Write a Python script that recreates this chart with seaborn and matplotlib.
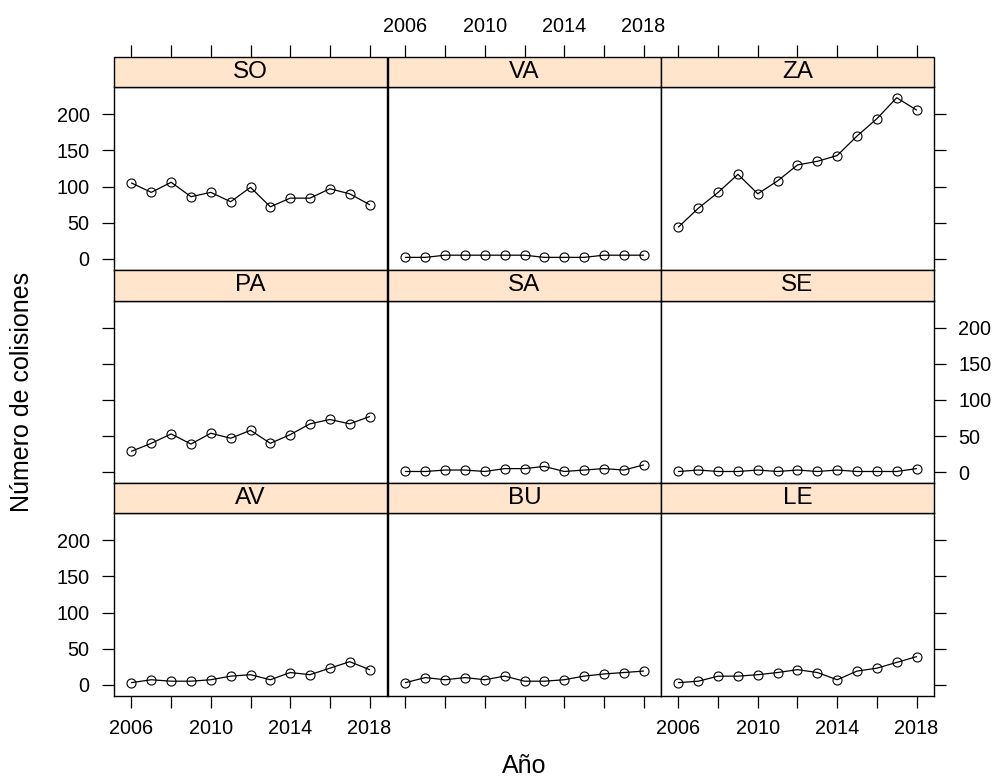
import matplotlib
matplotlib.use("Agg")
import matplotlib.pyplot as plt
from matplotlib.patches import Rectangle
import pandas as pd
import seaborn as sns

# Collisions per year and province
years = list(range(2006, 2019))
so = [105, 92, 106, 86, 92, 79, 99, 72, 84, 84, 97, 90, 75]
va = [2, 2, 5, 5, 5, 5, 5, 2, 2, 2, 5, 5, 5]
za = [44, 70, 92, 117, 90, 108, 130, 135, 143, 170, 194, 223, 206]
pa = [29, 40, 53, 39, 54, 47, 58, 40, 52, 67, 73, 67, 77]
sa = [1, 1, 3, 3, 1, 5, 5, 8, 1, 3, 5, 3, 10]
se = [1, 3, 1, 1, 3, 1, 3, 1, 3, 1, 1, 1, 5]
av = [3, 7, 5, 5, 7, 12, 14, 7, 17, 14, 23, 32, 21]
bu = [3, 10, 7, 10, 7, 12, 5, 5, 7, 12, 15, 17, 19]
le = [3, 5, 12, 12, 14, 17, 21, 17, 7, 19, 23, 31, 39]

series = {"SO": so, "VA": va, "ZA": za,
          "PA": pa, "SA": sa, "SE": se,
          "AV": av, "BU": bu, "LE": le}
layout = [["SO", "VA", "ZA"],
          ["PA", "SA", "SE"],
          ["AV", "BU", "LE"]]

x_ticks = list(range(2006, 2019, 2))
x_labels = ["2006", "", "2010", "", "2014", "", "2018"]
y_ticks = [0, 50, 100, 150, 200]
y_labels = ["0", "50", "100", "150", "200"]

df = pd.DataFrame([(p, y, v) for p, vals in series.items()
                   for y, v in zip(years, vals)],
                  columns=["prov", "year", "n"])

sns.set_theme(style="white")
plt.rcParams["font.family"] = ["Liberation Sans", "DejaVu Sans"]

W, H = 993, 782
fig = plt.figure(figsize=(W / 100, H / 100), dpi=100)

col_left = [114, 388, 661]
panel_w = 273
row_top = [87.3, 300.7, 513.3]
panel_h = 182.7
strip_h = 30.7
sf = strip_h / panel_h

tick_kw = dict(direction="out", length=8.5, width=0.9, labelsize=14.3,
               color="black", labelcolor="black")

for r, row in enumerate(layout):
    for c, prov in enumerate(row):
        x0 = col_left[c]
        top = row_top[r]
        ax = fig.add_axes([x0 / W, 1 - (top + panel_h) / H,
                           panel_w / W, panel_h / H])
        sns.lineplot(data=df[df.prov == prov], x="year", y="n", ax=ax,
                     color="black", lw=0.9, errorbar=None,
                     marker="o", markersize=6.5, markerfacecolor="none",
                     markeredgecolor="black", markeredgewidth=0.8)
        ax.set_xlim(2005.12, 2018.88)
        ax.set_ylim(-15.5, 237.5)
        ax.set_xlabel("")
        ax.set_ylabel("")
        for s in ax.spines.values():
            s.set_visible(True)
            s.set_color("black")
            s.set_linewidth(1.0)

        ax.set_xticks(x_ticks, x_labels)
        ax.set_yticks(y_ticks, y_labels)
        ax.tick_params(axis="both", **tick_kw)
        ax.tick_params(axis="x", pad=8,
                       bottom=(r == 2), top=False,
                       labelbottom=(r == 2 and c != 1), labeltop=False)
        ax.tick_params(axis="y", pad=9,
                       left=(c == 0), right=(c == 2),
                       labelleft=(c == 0 and r != 1),
                       labelright=(c == 2 and r == 1))

        # strip with the province name
        ax.add_patch(Rectangle((0, 1), 1, sf, transform=ax.transAxes,
                               clip_on=False, facecolor="#ffe5cc",
                               edgecolor="black", lw=1.0, zorder=3))
        ax.text(0.5, 1 + sf / 2, prov, transform=ax.transAxes,
                ha="center", va="center", fontsize=17.5, color="black",
                zorder=4)

        # top axis above the strips of the first row
        if r == 0:
            sec = ax.secondary_xaxis(1 + sf)
            sec.set_xticks(x_ticks, x_labels if c == 1 else [""] * len(x_ticks))
            for s in sec.spines.values():
                s.set_visible(False)
            sec.tick_params(axis="x", pad=6, **tick_kw)

fig.text((114 + 934) / 2 / W, 1 - 766 / H, "Año", ha="center", va="center",
         fontsize=18, color="black")
fig.text(22 / W, 1 - 392 / H, "Número de colisiones", rotation=90,
         ha="center", va="center", fontsize=18, color="black")

fig.savefig("out.png", dpi=100)
